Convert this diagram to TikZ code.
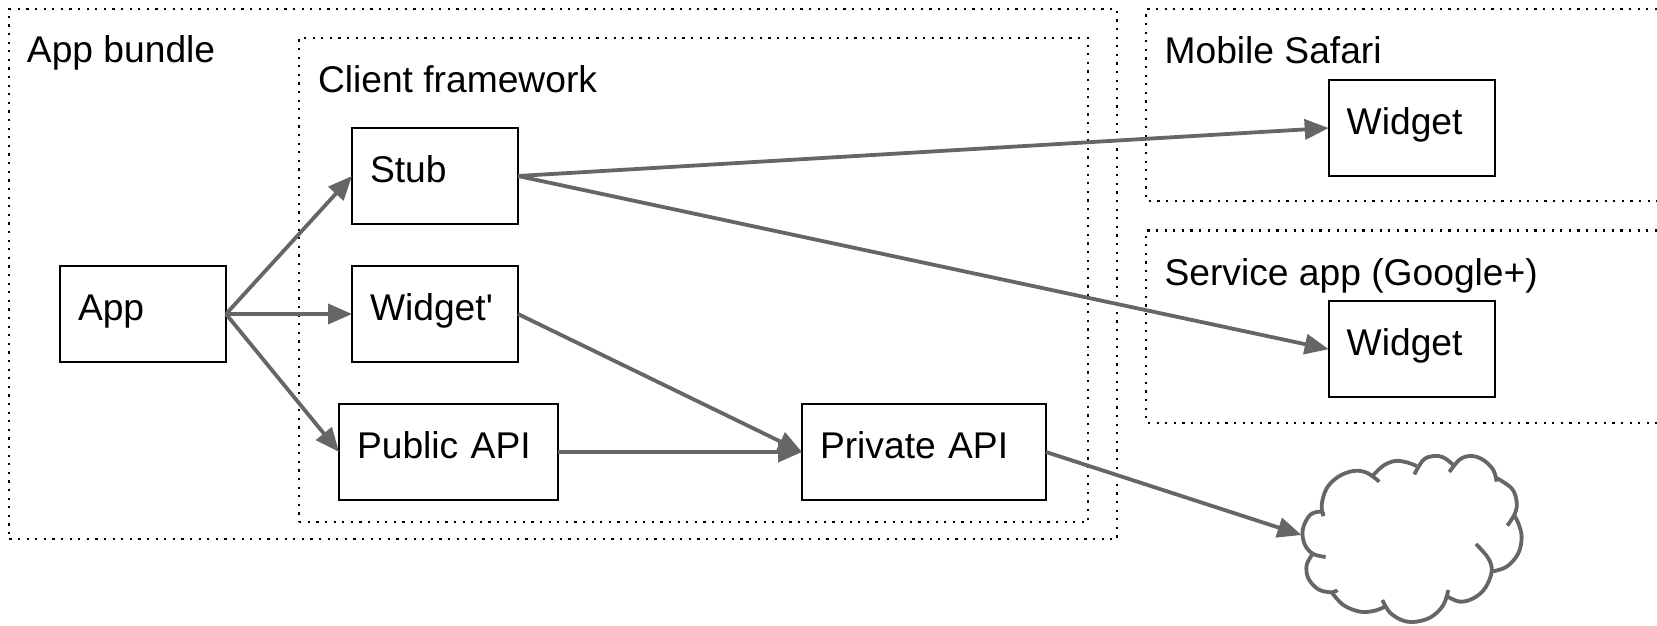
\documentclass[tikz,border=0pt]{standalone}
\usepackage{fontspec}
\setmainfont{Liberation Sans}[Ligatures=TeXOff]
\usetikzlibrary{arrows.meta}
\definecolor{conn}{HTML}{666666}
\tikzset{
  x=1pt,y=-1pt,
  region/.style={draw=black,line width=2.2pt,dash pattern=on 2.2pt off 6.4pt},
  title/.style={anchor=base west,inner sep=0pt,outer sep=0pt,font=\fontsize{37.2}{40}\selectfont},
  boxed/.style 2 args={draw=black,line width=1.6pt,anchor=north west,inner sep=0pt,outer sep=0pt,
    text width=#1,text height=54pt,text depth=#2-54pt,align=left,font=\fontsize{37.2}{40}\selectfont},
  conn/.style={draw=conn,line width=3.8pt,-{Triangle[length=24pt,width=20pt]},shorten >=0pt},
  cloudline/.style={draw=conn,line width=3.8pt}
}
\newcommand{\inset}{\hspace*{18pt}}
\begin{document}
\begin{tikzpicture}
\useasboundingbox (0,0) rectangle (1657,625);
% regions
\node[region,anchor=north west,outer sep=0pt,minimum width=1107.7pt,minimum height=530pt,inner sep=0pt] (bundle) at (9.3,9.3) {};
\node[region,anchor=north west,outer sep=0pt,minimum width=789pt,minimum height=484.3pt,inner sep=0pt] (client) at (299.2,37.7) {};
\draw[region] (1657,9.3) -- (1146,9.3) -- (1146,200.8) -- (1657,200.8);
\draw[region] (1657,230.5) -- (1146,230.5) -- (1146,422.7) -- (1657,422.7);
% titles
\node[title] (tbundle) at (27,62) {App bundle};
\node[title] (tclient) at (318,92) {Client framework};
\node[title] (tsafari) at (1164.6,63) {Mobile Safari};
\node[title] (tservice) at (1164.6,285) {Service app (Google+)};
% boxes
\node[boxed={166pt}{96pt}] (app) at (60,266) {\inset App};
\node[boxed={166pt}{96pt}] (stub) at (352,128) {\inset Stub};
\node[boxed={166pt}{96pt}] (widgetp) at (352,266) {\inset Widget'};
\node[boxed={219pt}{96pt}] (public) at (339,404) {\inset Public API};
\node[boxed={244pt}{96pt}] (private) at (802,404) {\inset Private API};
\node[boxed={166.5pt}{96pt}] (widgeta) at (1328.7,80) {\inset Widget};
\node[boxed={166.5pt}{96pt},text height=54.5pt,text depth=41.5pt] (widgetb) at (1328.7,301.2) {\inset Widget};
% cloud
\coordinate (cloud) at (1301.5,535);
\begin{scope}[shift={(1260,430)},x=0.3333pt,y=-0.3333pt]
\draw[cloudline] plot[smooth,tension=0.6] coordinates {(190,258) (184,245) (150,255) (128,300) (135,345) (160,372) (197,381)};
\draw[cloudline] plot[smooth,tension=0.6] coordinates {(158,372) (140,405) (145,445) (175,478) (215,487) (232,480)};
\draw[cloudline] plot[smooth,tension=0.6] coordinates {(215,487) (250,525) (300,545) (345,542) (378,528)};
\draw[cloudline] plot[smooth,tension=0.6] coordinates {(367,510) (390,548) (430,572) (470,575) (515,560) (550,525) (565,480)};
\draw[cloudline] plot[smooth,tension=0.6] coordinates {(563,500) (600,515) (640,505) (675,475) (695,425) (685,385) (648,342)};
\draw[cloudline] plot[smooth,tension=0.6] coordinates {(695,425) (740,410) (775,370) (785,320) (775,280) (762,255)};
\draw[cloudline] plot[smooth,tension=0.6] coordinates {(742,287) (765,250) (770,215) (755,175) (708,143)};
\draw[cloudline] plot[smooth,tension=0.6] coordinates {(710,155) (700,120) (670,90) (635,78) (600,88) (568,126)};
\draw[cloudline] plot[smooth,tension=0.6] coordinates {(580,105) (550,82) (520,78) (490,90) (463,133)};
\draw[cloudline] plot[smooth,tension=0.6] coordinates {(470,108) (440,97) (405,93) (370,107) (340,135)};
\draw[cloudline] plot[smooth,tension=0.6] coordinates {(358,155) (320,128) (280,123) (235,140) (200,175) (185,225) (190,258)};
\end{scope}
% connectors
\draw[conn] (app.east) -- (stub.west);
\draw[conn] (app.east) -- (widgetp.west);
\draw[conn] (app.east) -- (public.west);
\draw[conn] (stub.east) -- (widgeta.west);
\draw[conn] (stub.east) -- (widgetb.west);
\draw[conn] (widgetp.east) -- (private.west);
\draw[conn] (public.east) -- (private.west);
\draw[conn] (private.east) -- (cloud);
\end{tikzpicture}
\end{document}
